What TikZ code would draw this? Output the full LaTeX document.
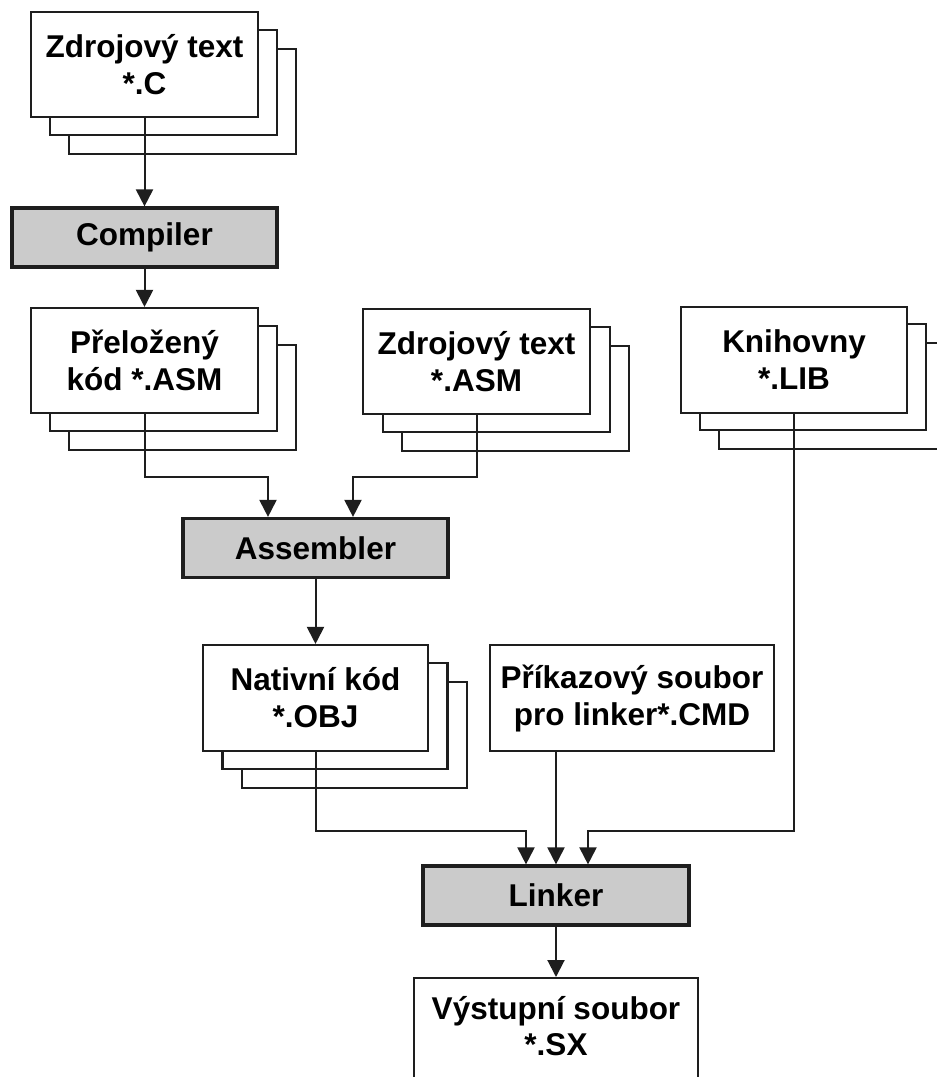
\documentclass[tikz,border=0pt]{standalone}
\usepackage{fontspec}
\setmainfont{Liberation Sans}
\usetikzlibrary{arrows.meta,calc}
\definecolor{ink}{HTML}{1E1E1E}
\definecolor{procfill}{HTML}{CBCBCB}
\tikzset{
  x=1pt, y=-1pt,
  doc/.style={draw=ink, line width=2.1pt, fill=white, inner sep=0pt,
    align=center, font=\bfseries\fontsize{31.5}{37}\selectfont},
  proc/.style={draw=ink, line width=3.2pt, fill=procfill, inner sep=0pt,
    align=center, font=\bfseries\fontsize{31.5}{37}\selectfont,
    minimum height=59pt},
  lbl/.style={align=center, inner sep=0pt, font=\bfseries\fontsize{31.5}{36}\selectfont},
  arr/.style={draw=ink, line width=2pt, -{Triangle[width=17pt,length=17pt]}}
}
\begin{document}
\begin{tikzpicture}
\useasboundingbox (0,0) rectangle (937,1077);
\clip (0,0) rectangle (937,1077);

% ---- source file *.C (stack of three sheets)
\node[doc, minimum width=227pt, minimum height=105pt] (srcC3) at (182.5,101.5) {};
\node[doc, minimum width=227pt, minimum height=105pt] (srcC2) at (163.5,82.5) {};
\node[doc, minimum width=227pt, minimum height=105pt] (srcC) at (144.5,64.5) {Zdrojový text\\*.C};

% ---- compiler
\node[proc, minimum width=265pt] (comp) at (144.5,237.5) {Compiler};

% ---- compiled code *.ASM
\node[doc, minimum width=227pt, minimum height=105pt] (prel3) at (182.5,397.5) {};
\node[doc, minimum width=227pt, minimum height=105pt] (prel2) at (163.5,378.5) {};
\node[doc, minimum width=227pt, minimum height=105pt] (prel) at (144.5,360.5) {Přeložený\\kód *.ASM};

% ---- source file *.ASM
\node[doc, minimum width=227pt, minimum height=105pt] (zasm3) at (515.5,398.5) {};
\node[doc, minimum width=227pt, minimum height=105pt] (zasm2) at (496.5,379.5) {};
\node[doc, minimum width=227pt, minimum height=105pt] (zasm) at (476.5,361.5) {Zdrojový text\\*.ASM};

% ---- libraries *.LIB
\node[doc, minimum width=226pt, minimum height=106pt] (lib3) at (832,396) {};
\node[doc, minimum width=226pt, minimum height=106pt] (lib2) at (813,377) {};
\node[doc, minimum width=226pt, minimum height=106pt] (lib) at (794,360) {Knihovny\\*.LIB};

% ---- assembler
\node[proc, minimum width=265pt] (asm) at (315.5,548) {Assembler};

% ---- native code *.OBJ
\node[doc, minimum width=225pt, minimum height=106pt] (nat3) at (354.5,735) {};
\node[doc, minimum width=225pt, minimum height=106pt] (nat2) at (335,716) {};
\node[doc, minimum width=225pt, minimum height=106pt] (nat) at (315.5,698) {Nativní kód\\*.OBJ};

% ---- linker command file
\node[doc, minimum width=284pt, minimum height=106pt] (cmd) at (632,698) {Příkazový soubor\\pro linker*.CMD};

% ---- linker
\node[proc, minimum width=266pt] (link) at (556,895.5) {Linker};

% ---- output file
\node[doc, minimum width=284pt, minimum height=140pt, anchor=north] (out) at (556,977) {};
\node[lbl] (outtxt) at (556,1026) {Výstupní soubor\\*.SX};

% ---- connectors
\draw[arr] (srcC.south) -- (comp.north);
\draw[arr] (comp.south) -- (prel.north);
\draw[arr] (prel.south) |- ($(asm.north)+(-47.5,-40)$) -- ($(asm.north)+(-47.5,0)$);
\draw[arr] (zasm.south) |- ($(asm.north)+(37.5,-40)$) -- ($(asm.north)+(37.5,0)$);
\draw[arr] (asm.south) -- (nat.north);
\draw[arr] (nat.south) |- ($(link.north)+(-30,-33)$) -- ($(link.north)+(-30,0)$);
\draw[arr] (cmd.south -| link.north) -- (link.north);
\draw[arr] (lib.south) |- ($(link.north)+(32,-33)$) -- ($(link.north)+(32,0)$);
\draw[arr] (link.south) -- (out.north);
\end{tikzpicture}
\end{document}
